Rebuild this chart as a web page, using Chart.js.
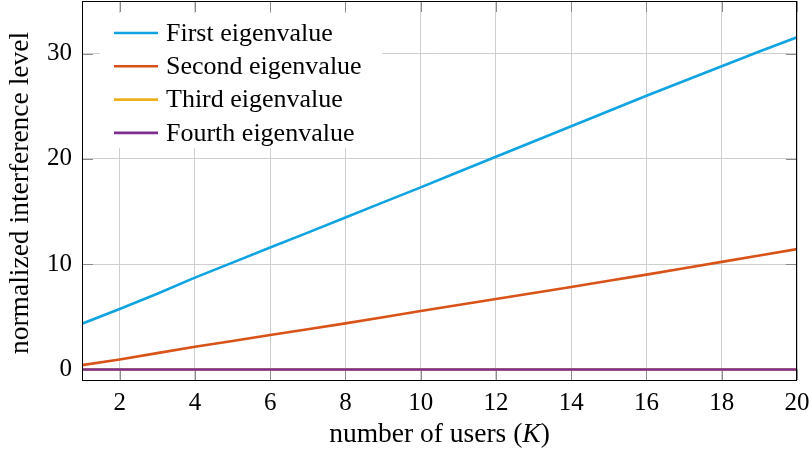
<!DOCTYPE html>
<html>
<head>
<meta charset="utf-8">
<script src="https://cdn.jsdelivr.net/npm/chart.js@4/dist/chart.umd.min.js"></script>
<style>
  html, body { margin: 0; padding: 0; background: #ffffff; }
  #wrap { width: 810px; height: 452px; position: relative; }
</style>
</head>
<body>
<div id="wrap"><canvas id="c"></canvas></div>
<script>
// Number of users K
const users = [1, 2, 3, 4, 5, 6, 7, 8, 9, 10, 11, 12, 13, 14, 15, 16, 17, 18, 19, 20];

// Normalized interference level per eigenvalue
const firstEig  = [4.35, 5.74, 7.2, 8.72, 10.15, 11.58, 13.0, 14.44, 15.87, 17.3,
                   18.75, 20.2, 21.65, 23.1, 24.55, 26.0, 27.4, 28.8, 30.2, 31.55];
const secondEig = [0.41, 0.95, 1.55, 2.15, 2.7, 3.27, 3.82, 4.38, 4.96, 5.55,
                   6.12, 6.7, 7.27, 7.84, 8.42, 9.01, 9.61, 10.22, 10.82, 11.43];
const thirdEig  = [0, 0, 0, 0, 0, 0, 0, 0, 0, 0, 0, 0, 0, 0, 0, 0, 0, 0, 0, 0];
const fourthEig = [0, 0, 0, 0, 0, 0, 0, 0, 0, 0, 0, 0, 0, 0, 0, 0, 0, 0, 0, 0];

const seriesLabels = ['First eigenvalue', 'Second eigenvalue', 'Third eigenvalue', 'Fourth eigenvalue'];
const seriesColors = ['#0fa3e2', '#d95319', '#edb120', '#7e2f8e'];

const xTicks = [2, 4, 6, 8, 10, 12, 14, 16, 18, 20];
const yTicks = [0, 10, 20, 30];

const SERIF = '"Liberation Serif", "DejaVu Serif", serif';
const LINE_W = 2.6;

function toPoints(vals) {
  return users.map((k, i) => ({ x: k, y: vals[i] }));
}

const allSeries = [firstEig, secondEig, thirdEig, fourthEig];
const datasets = allSeries.map((vals, i) => ({
  label: seriesLabels[i],
  data: toPoints(vals),
  borderColor: seriesColors[i],
  backgroundColor: seriesColors[i],
  borderWidth: LINE_W,
  pointRadius: 0,
  tension: 0,
  fill: false,
  order: 3 - i
}));

// Frame around the plot with inward tick marks
const framePlugin = {
  id: 'frame',
  beforeDatasetsDraw(chart) {
    const { ctx, chartArea: a, scales } = chart;
    const len = 11;
    ctx.save();
    ctx.strokeStyle = '#8a8a8a';
    ctx.lineWidth = 1;
    ctx.beginPath();
    xTicks.forEach(v => {
      const px = Math.round(scales.x.getPixelForValue(v)) + 0.5;
      ctx.moveTo(px, a.bottom); ctx.lineTo(px, a.bottom - len);
      ctx.moveTo(px, a.top); ctx.lineTo(px, a.top + len);
    });
    yTicks.forEach(v => {
      const py = Math.round(scales.y.getPixelForValue(v)) + 0.5;
      ctx.moveTo(a.left, py); ctx.lineTo(a.left + len, py);
      ctx.moveTo(a.right, py); ctx.lineTo(a.right - len, py);
    });
    ctx.stroke();
    ctx.restore();
  },
  afterDraw(chart) {
    const { ctx, chartArea: a } = chart;
    ctx.save();
    ctx.strokeStyle = '#000000';
    ctx.lineWidth = 1;
    ctx.strokeRect(Math.round(a.left) + 0.5, Math.round(a.top) + 0.5,
                   Math.round(a.right - a.left) - 1, Math.round(a.bottom - a.top));
    ctx.restore();
  }
};

// Legend box inside the plot, top-left
const insideLegend = {
  id: 'insideLegend',
  afterDatasetsDraw(chart) {
    const { ctx } = chart;
    ctx.save();
    ctx.fillStyle = '#ffffff';
    ctx.fillRect(100, 13, 282, 135);
    ctx.font = '26px ' + SERIF;
    ctx.textBaseline = 'middle';
    ctx.textAlign = 'left';
    chart.data.datasets.forEach((ds, i) => {
      const y = 33 + i * 33.3;
      ctx.strokeStyle = ds.borderColor;
      ctx.lineWidth = LINE_W;
      ctx.beginPath();
      ctx.moveTo(114, y);
      ctx.lineTo(158, y);
      ctx.stroke();
      ctx.fillStyle = '#000000';
      ctx.fillText(ds.label, 166, y + 1);
    });
    ctx.restore();
  }
};

// Axis titles (x title has an italic K)
const axisTitles = {
  id: 'axisTitles',
  afterDraw(chart) {
    const { ctx, chartArea: a } = chart;
    ctx.save();
    ctx.fillStyle = '#000000';
    ctx.textBaseline = 'alphabetic';
    ctx.textAlign = 'left';
    const parts = [
      { t: 'number of users (', f: '27.5px ' + SERIF },
      { t: 'K', f: 'italic 27.5px ' + SERIF },
      { t: ')', f: '27.5px ' + SERIF }
    ];
    let total = 0;
    parts.forEach(p => { ctx.font = p.f; p.w = ctx.measureText(p.t).width; total += p.w; });
    let x = (a.left + a.right) / 2 - total / 2;
    parts.forEach(p => { ctx.font = p.f; ctx.fillText(p.t, x, 442); x += p.w; });

    ctx.font = '27.5px ' + SERIF;
    ctx.translate(28, 193);
    ctx.rotate(-Math.PI / 2);
    ctx.textAlign = 'center';
    ctx.fillText('normalized interference level', 0, 0);
    ctx.restore();
  }
};

new Chart(document.getElementById('c'), {
  type: 'line',
  data: { datasets },
  options: {
    responsive: true,
    maintainAspectRatio: false,
    animation: false,
    layout: { padding: { left: 0, right: 13, top: 1, bottom: 0 } },
    plugins: { legend: { display: false }, tooltip: { enabled: false } },
    scales: {
      x: {
        type: 'linear',
        min: 1,
        max: 20,
        afterBuildTicks: s => { s.ticks = xTicks.map(v => ({ value: v })); },
        afterFit: s => { s.height = 72; s.paddingLeft = 0; s.paddingRight = 0; },
        border: { display: false },
        grid: { color: '#cfcfcf', lineWidth: 1, drawTicks: false },
        ticks: {
          color: '#000000',
          font: { family: SERIF, size: 25 },
          padding: 8,
          maxRotation: 0,
          autoSkip: false
        }
      },
      y: {
        type: 'linear',
        min: -1,
        max: 35,
        afterBuildTicks: s => { s.ticks = yTicks.map(v => ({ value: v })); },
        afterFit: s => { s.width = 82; s.paddingTop = 0; s.paddingBottom = 0; },
        border: { display: false },
        grid: { color: '#cfcfcf', lineWidth: 1, drawTicks: false },
        ticks: {
          color: '#000000',
          font: { family: SERIF, size: 25 },
          padding: 10
        }
      }
    }
  },
  plugins: [framePlugin, insideLegend, axisTitles]
});
</script>
</body>
</html>
